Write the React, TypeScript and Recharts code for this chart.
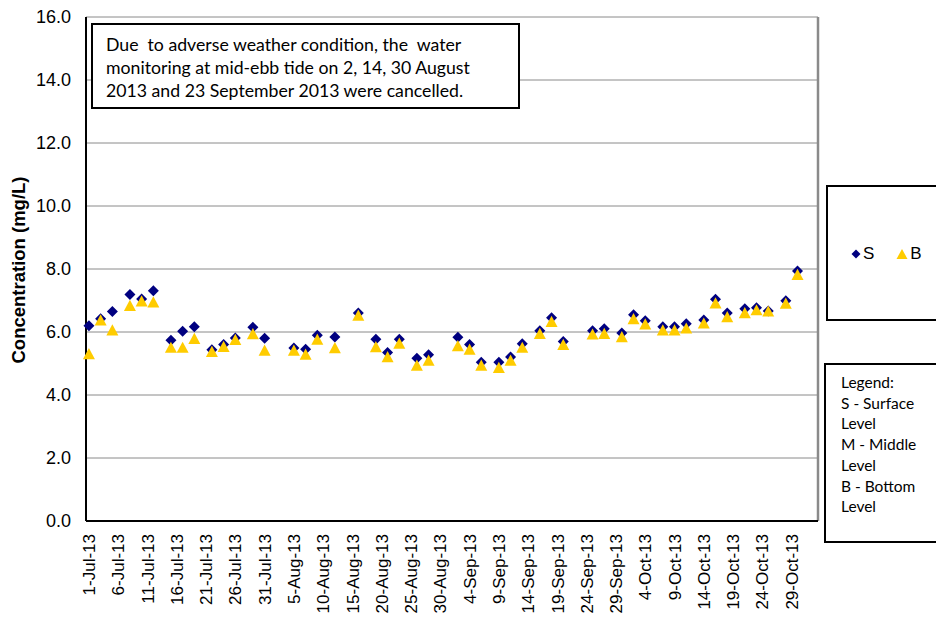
import { ScatterChart, Scatter, XAxis, YAxis, CartesianGrid, ReferenceLine, Legend, Label } from 'recharts';

// monitoring dates (mid-ebb tide)
const sampleDates = [
  '2013-07-01', '2013-07-03', '2013-07-05', '2013-07-08', '2013-07-10', '2013-07-12', '2013-07-15',
  '2013-07-17', '2013-07-19', '2013-07-22', '2013-07-24', '2013-07-26', '2013-07-29', '2013-07-31',
  '2013-08-05', '2013-08-07', '2013-08-09', '2013-08-12', '2013-08-16', '2013-08-19', '2013-08-21',
  '2013-08-23', '2013-08-26', '2013-08-28', '2013-09-02', '2013-09-04', '2013-09-06', '2013-09-09',
  '2013-09-11', '2013-09-13', '2013-09-16', '2013-09-18', '2013-09-20', '2013-09-25', '2013-09-27',
  '2013-09-30', '2013-10-02', '2013-10-04', '2013-10-07', '2013-10-09', '2013-10-11', '2013-10-14',
  '2013-10-16', '2013-10-18', '2013-10-21', '2013-10-23', '2013-10-25', '2013-10-28', '2013-10-30',
];

const surface = [
  6.20, 6.42, 6.65, 7.19, 7.05, 7.31, 5.74,
  6.02, 6.17, 5.44, 5.60, 5.81, 6.15, 5.80,
  5.49, 5.45, 5.90, 5.84, 6.60, 5.77, 5.35,
  5.77, 5.17, 5.28, 5.83, 5.60, 5.04, 5.04,
  5.21, 5.63, 6.04, 6.45, 5.70, 6.04, 6.10,
  5.97, 6.55, 6.36, 6.17, 6.17, 6.26, 6.38,
  7.04, 6.60, 6.74, 6.77, 6.67, 6.99, 7.94,
];

const bottom = [
  5.31, 6.38, 6.06, 6.84, 6.98, 6.95, 5.51,
  5.51, 5.79, 5.38, 5.54, 5.76, 5.94, 5.42,
  5.42, 5.29, 5.77, 5.50, 6.53, 5.53, 5.21,
  5.64, 4.94, 5.10, 5.56, 5.45, 4.94, 4.87,
  5.10, 5.51, 5.95, 6.33, 5.60, 5.93, 5.95,
  5.85, 6.42, 6.25, 6.06, 6.06, 6.12, 6.28,
  6.92, 6.48, 6.61, 6.70, 6.66, 6.91, 7.82,
];

const yTicks = [0, 2, 4, 6, 8, 10, 12, 14, 16];
const xTickDays = [0, 5, 10, 15, 20, 25, 30, 35, 40, 45, 50, 55, 60, 65, 70, 75, 80, 85, 90, 95, 100, 105, 110, 115, 120];
const monthNames = ['Jan', 'Feb', 'Mar', 'Apr', 'May', 'Jun', 'Jul', 'Aug', 'Sep', 'Oct', 'Nov', 'Dec'];

const noteLines = [
  'Due  to adverse weather condition, the  water',
  'monitoring at mid-ebb tide on 2, 14, 30 August',
  '2013 and 23 September 2013 were cancelled.',
];
const legendNotes = ['Legend:', 'S - Surface', 'Level', 'M - Middle', 'Level', 'B - Bottom', 'Level'];

const START = Date.UTC(2013, 6, 1);
const DAY = 86400000;
const toDay = (iso: string) => {
  const [y, m, d] = iso.split('-').map(Number);
  return Math.round((Date.UTC(y, m - 1, d) - START) / DAY);
};
const dayLabel = (day: number) => {
  const dt = new Date(START + day * DAY);
  return `${dt.getUTCDate()}-${monthNames[dt.getUTCMonth()]}-13`;
};

const sData = sampleDates.map((d, i) => ({ day: toDay(d), value: surface[i] }));
const bData = sampleDates.map((d, i) => ({ day: toDay(d), value: bottom[i] }));

const NAVY = '#000080';
const GOLD = '#FFCC00';
const AXIS_FONT = '"Liberation Sans", Arial, sans-serif';
const NOTE_FONT = 'Lato, "Noto Sans", sans-serif';

const Diamond = (props: any) => {
  const { cx, cy } = props;
  const r = 5.5;
  return <polygon points={`${cx},${cy - r} ${cx + r},${cy} ${cx},${cy + r} ${cx - r},${cy}`} fill={NAVY} />;
};

const Triangle = (props: any) => {
  const { cx, cy } = props;
  return <polygon points={`${cx},${cy - 5.8} ${cx + 6},${cy + 5.4} ${cx - 6},${cy + 5.4}`} fill={GOLD} />;
};

const XTick = ({ x, y, payload }: any) => {
  const ty = y + 11;
  return (
    <text x={x} y={ty} transform={`rotate(-90, ${x}, ${ty})`} textAnchor="end" dy="0.36em"
      fill="#000" fontSize={17} fontFamily={AXIS_FONT}>
      {dayLabel(payload.value)}
    </text>
  );
};

const LegendBox = () => (
  <div style={{ display: 'flex', alignItems: 'center', fontFamily: AXIS_FONT, fontSize: 17, color: '#000' }}>
    <svg width={12} height={12} style={{ marginRight: 1 }}>
      <polygon points="6,1.5 10.5,6 6,10.5 1.5,6" fill={NAVY} />
    </svg>
    <span>S</span>
    <svg width={14} height={12} style={{ marginLeft: 21, marginRight: 1 }}>
      <polygon points="7,1 12.5,11 1.5,11" fill={GOLD} />
    </svg>
    <span>B</span>
  </div>
);

export default function App() {
  return (
    <div style={{ position: 'absolute', left: 0, top: 0, width: 936, height: 617, background: '#fff' }}>
      <ScatterChart width={936} height={617} margin={{ top: 17, right: 118, left: 0, bottom: 0 }}>
        <CartesianGrid horizontal vertical={false} stroke="#8a8a8a" />
        <XAxis
          type="number"
          dataKey="day"
          domain={[-0.5, 124.5]}
          ticks={xTickDays}
          interval={0}
          height={96}
          tickLine={false}
          tickSize={0}
          axisLine={{ stroke: '#000', strokeWidth: 2 }}
          tick={<XTick />}
        />
        <YAxis
          type="number"
          dataKey="value"
          domain={[0, 16]}
          ticks={yTicks}
          width={86}
          tickLine={false}
          tickSize={0}
          tickMargin={15}
          axisLine={{ stroke: '#000', strokeWidth: 2 }}
          tickFormatter={(v: number) => v.toFixed(1)}
          tick={{ fill: '#000', fontSize: 18, fontFamily: AXIS_FONT }}
        >
          <Label
            content={() => (
              <text x={19} y={270} transform="rotate(-90, 19, 270)" textAnchor="middle" dy="0.35em"
                fontSize={18.5} fontWeight="bold" fontFamily={AXIS_FONT} fill="#000">
                Concentration (mg/L)
              </text>
            )}
          />
        </YAxis>
        <ReferenceLine x={124.5} stroke="#8a8a8a" strokeWidth={2.5} ifOverflow="extendDomain" />
        <Scatter name="S" data={sData} shape={<Diamond />} isAnimationActive={false} />
        <Scatter name="B" data={bData} shape={<Triangle />} isAnimationActive={false} />
        <Legend
          content={() => <LegendBox />}
          layout="horizontal"
          verticalAlign="middle"
          wrapperStyle={{ position: 'absolute', left: 850, top: 244, width: 90, height: 20 }}
        />
      </ScatterChart>

      {/* note about cancelled monitoring */}
      <div style={{
        position: 'absolute', left: 91, top: 23, width: 429, height: 86, boxSizing: 'border-box',
        border: '2px solid #000', background: '#fff', padding: '8px 0 0 13px',
        fontFamily: NOTE_FONT, fontSize: 17.7, lineHeight: '23px', color: '#000', whiteSpace: 'pre',
      }}>
        {noteLines.map((l, i) => <div key={i}>{l}</div>)}
      </div>

      {/* legend frame */}
      <div style={{
        position: 'absolute', left: 826, top: 185, width: 120, height: 136, boxSizing: 'border-box',
        border: '2px solid #000', pointerEvents: 'none',
      }} />

      {/* level description */}
      <div style={{
        position: 'absolute', left: 824, top: 363, width: 130, height: 180, boxSizing: 'border-box',
        border: '2px solid #000', background: '#fff', padding: '7px 0 0 15px',
        fontFamily: NOTE_FONT, fontSize: 15.5, lineHeight: '20.7px', color: '#000',
      }}>
        {legendNotes.map((l, i) => <div key={i}>{l}</div>)}
      </div>
    </div>
  );
}
